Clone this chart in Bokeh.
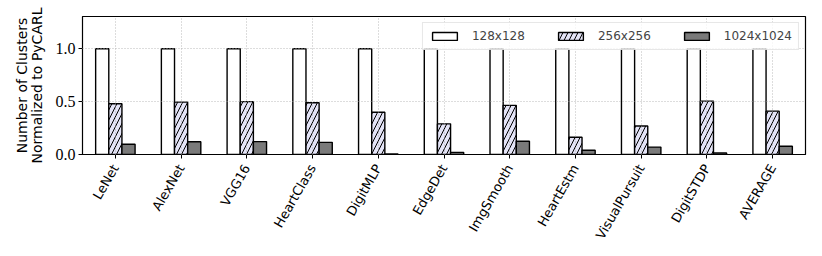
import math
from bokeh.plotting import figure
from bokeh.models import FixedTicker, Range1d, Legend, LegendItem
from bokeh.embed import file_html
from bokeh.resources import INLINE

categories = ["LeNet", "AlexNet", "VGG16", "HeartClass", "DigitMLP", "EdgeDet",
              "ImgSmooth", "HeartEstm", "VisualPursuit", "DigitSTDP", "AVERAGE"]
series_names = ["128x128", "256x256", "1024x1024"]
vals_128 = [1.0, 1.0, 1.0, 1.0, 1.0, 1.0, 1.0, 1.0, 1.0, 1.0, 1.0]
vals_256 = [0.48, 0.495, 0.50, 0.49, 0.40, 0.29, 0.465, 0.163, 0.27, 0.505, 0.41]
vals_1024 = [0.097, 0.12, 0.122, 0.115, 0.005, 0.02, 0.125, 0.04, 0.07, 0.015, 0.078]
y_ticks = [0.0, 0.5, 1.0]

idx = list(range(len(categories)))
bw = 0.2

p = figure(width=822, height=256, output_backend="svg", toolbar_location=None,
           x_range=Range1d(-0.5, len(categories) - 0.5), y_range=Range1d(0, 1.305),
           min_border_left=82, min_border_right=17, min_border_top=16, min_border_bottom=102)
p.outline_line_color = "black"
p.outline_line_width = 1.2

r1 = p.vbar(x=[i - bw for i in idx], top=vals_128, width=bw, bottom=0,
            fill_color="white", line_color="black", line_width=1.4)
r2 = p.vbar(x=idx, top=vals_256, width=bw, bottom=0,
            fill_color="#e4e4f7", line_color="black", line_width=1.4,
            hatch_pattern="/", hatch_color="black", hatch_weight=1.0, hatch_scale=10)
r3 = p.vbar(x=[i + bw for i in idx], top=vals_1024, width=bw, bottom=0,
            fill_color="#7a7a7a", line_color="black", line_width=1.4)

sans = "DejaVu Sans"
serif = "Liberation Serif"

p.xaxis.ticker = FixedTicker(ticks=idx)
p.xaxis.major_label_overrides = {i: c for i, c in zip(idx, categories)}
p.xaxis.major_label_orientation = math.pi / 3
p.xaxis.major_label_text_font = sans
p.xaxis.major_label_text_font_size = "13px"
p.xaxis.major_label_text_color = "black"
p.xaxis.major_label_standoff = 7
p.xaxis.minor_tick_line_color = None
p.xaxis.major_tick_out = 4
p.xaxis.major_tick_in = 0
p.xaxis.axis_line_color = "black"
p.xaxis.major_tick_line_color = "black"

p.yaxis.ticker = FixedTicker(ticks=y_ticks)
p.yaxis.major_label_overrides = {t: f"{t:.1f}" for t in y_ticks}
p.yaxis.major_label_text_font = serif
p.yaxis.major_label_text_font_size = "16px"
p.yaxis.major_label_text_color = "black"
p.yaxis.major_label_standoff = 3
p.yaxis.minor_tick_line_color = None
p.yaxis.major_tick_out = 4
p.yaxis.major_tick_in = 0
p.yaxis.axis_label = "Number of Clusters\nNormalized to PyCARL"
p.yaxis.axis_label_text_font = sans
p.yaxis.axis_label_text_font_size = "14px"
p.yaxis.axis_label_text_font_style = "normal"
p.yaxis.axis_label_text_color = "black"
p.yaxis.axis_label_text_line_height = 0.92
p.yaxis.axis_label_standoff = 8

for g in (p.xgrid, p.ygrid):
    g.grid_line_color = "#a8a8a8"
    g.grid_line_dash = "1 2"
    g.grid_line_width = 0.8
    g.level = "guide"

legend = Legend(items=[LegendItem(label=series_names[0], renderers=[r1]),
                       LegendItem(label=series_names[1], renderers=[r2]),
                       LegendItem(label=series_names[2], renderers=[r3])],
                orientation="horizontal", location="top_right")
legend.glyph_width = 31
legend.glyph_height = 10
legend.label_standoff = 12
legend.spacing = 30
legend.padding = 6
legend.margin = 6
legend.label_text_font = sans
legend.label_text_font_size = "12px"
legend.border_line_color = "#d0d0d0"
legend.background_fill_alpha = 0.8
p.add_layout(legend)

open("out.html", "w").write(file_html(p, INLINE))
